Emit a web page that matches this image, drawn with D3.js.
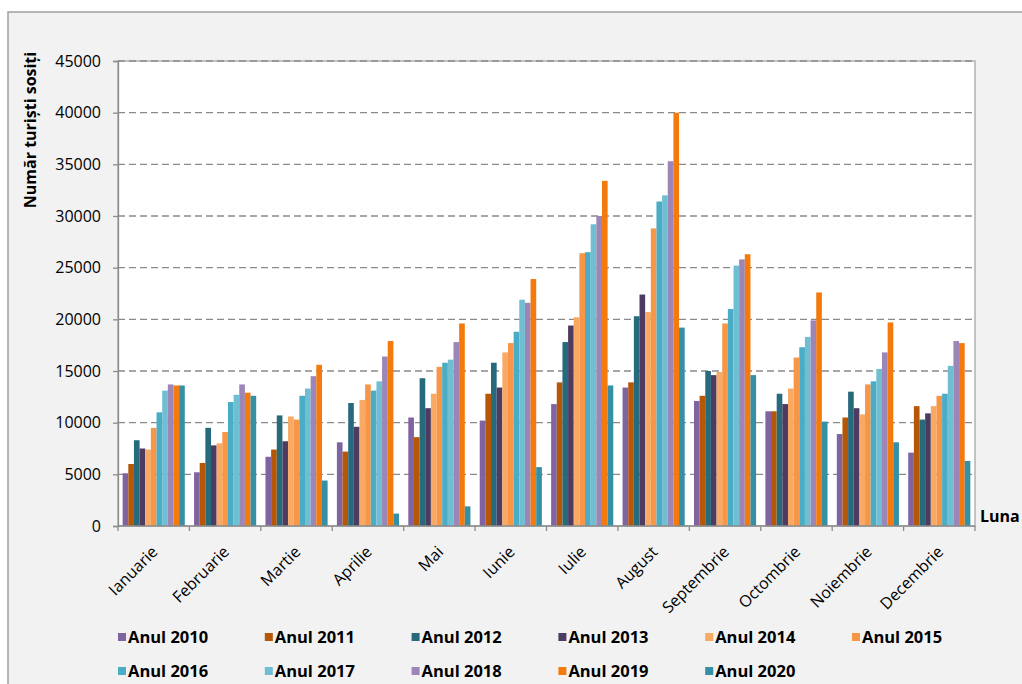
<!DOCTYPE html>
<html><head><meta charset="utf-8">
<script src="https://cdn.jsdelivr.net/npm/d3@7/dist/d3.min.js"></script>
<style>
html,body{margin:0;padding:0;background:#fff;}
svg{display:block;}
text{font-family:"Open Sans",sans-serif;fill:#000;}
</style></head>
<body>
<svg id="chart" width="1022" height="684"></svg>
<script>
const months = ["Ianuarie","Februarie","Martie","Aprilie","Mai","Iunie","Iulie","August","Septembrie","Octombrie","Noiembrie","Decembrie"];
const years = ["Anul 2010","Anul 2011","Anul 2012","Anul 2013","Anul 2014","Anul 2015","Anul 2016","Anul 2017","Anul 2018","Anul 2019","Anul 2020"];
const colors = ["#8064A2","#B65708","#276A7C","#4D3B62","#F8A964","#F79646","#4BACC6","#70BED2","#9C86B7","#F47A0E","#3590A5"];
const y2010 = [5100, 5200, 6700, 8100, 10500, 10200, 11800, 13400, 12100, 11100, 8900, 7100];
const y2011 = [6000, 6100, 7400, 7200, 8600, 12800, 13900, 13900, 12600, 11100, 10500, 11600];
const y2012 = [8300, 9500, 10700, 11900, 14300, 15800, 17800, 20300, 15000, 12800, 13000, 10300];
const y2013 = [7500, 7800, 8200, 9600, 11400, 13400, 19400, 22400, 14600, 11800, 11400, 10900];
const y2014 = [7400, 8000, 10600, 12200, 12800, 16800, 20200, 20700, 14900, 13300, 10800, 11600];
const y2015 = [9500, 9100, 10300, 13700, 15400, 17700, 26400, 28800, 19600, 16300, 13700, 12600];
const y2016 = [11000, 12000, 12600, 13100, 15800, 18800, 26500, 31400, 21000, 17300, 14000, 12800];
const y2017 = [13100, 12700, 13300, 14000, 16100, 21900, 29200, 32000, 25200, 18300, 15200, 15500];
const y2018 = [13700, 13700, 14500, 16400, 17800, 21600, 30000, 35300, 25800, 19900, 16800, 17900];
const y2019 = [13600, 12900, 15600, 17900, 19600, 23900, 33400, 40000, 26300, 22600, 19700, 17700];
const y2020 = [13600, 12600, 4400, 1200, 1900, 5700, 13600, 19200, 14600, 10100, 8100, 6300];
const yTicks = [0,5000,10000,15000,20000,25000,30000,35000,40000,45000];
const series = [y2010,y2011,y2012,y2013,y2014,y2015,y2016,y2017,y2018,y2019,y2020];

const svg = d3.select("#chart");
const L = 118, R = 975, T = 61, B = 526;

// outer chart area
svg.append("rect").attr("x",8).attr("y",12).attr("width",1040).attr("height",700)
  .attr("fill","#F2F2F2").attr("stroke","#A0A0A0").attr("stroke-width",1.5);
// plot area
svg.append("rect").attr("x",L).attr("y",T).attr("width",R-L).attr("height",B-T)
  .attr("fill","#FFFFFF").attr("stroke","#A6A6A6").attr("stroke-width",1.3);

const x0 = d3.scaleBand().domain(months).range([L,R]).padding(0);
const bw = x0.bandwidth();
const x1 = d3.scaleBand().domain(years).range([bw*0.065, bw*0.935]).padding(0);
const y = d3.scaleLinear().domain([0,45000]).range([B,T]);

// gridlines
svg.append("g").selectAll("line").data(yTicks.filter(d=>d>0)).join("line")
  .attr("x1",L).attr("x2",R).attr("y1",d=>y(d)).attr("y2",d=>y(d))
  .attr("stroke","#8A8A8A").attr("stroke-width",1.4).attr("stroke-dasharray","7,4");

// bars
const g = svg.append("g");
months.forEach((m,mi)=>{
  years.forEach((yr,yi)=>{
    const v = series[yi][mi];
    g.append("rect")
      .attr("x", x0(m)+x1(yr))
      .attr("y", y(v))
      .attr("width", x1.bandwidth())
      .attr("height", B-y(v))
      .attr("fill", colors[yi]);
  });
});

// y axis
const yAxis = d3.axisLeft(y).tickValues(yTicks).tickSize(5).tickPadding(12).tickFormat(d3.format("d"));
const ya = svg.append("g").attr("transform",`translate(${L},0)`).call(yAxis);
ya.select(".domain").attr("stroke","#8C8C8C").attr("stroke-width",1.3);
ya.selectAll(".tick line").attr("stroke","#8C8C8C").attr("stroke-width",1.3);
ya.selectAll(".tick text").style("font-size","16px").style("font-family","Open Sans").attr("fill","#000");

// x axis
const xTickPos = months.map(m=>x0(m)).concat([R]);
const xa = svg.append("g");
xa.append("line").attr("x1",L).attr("x2",R).attr("y1",B).attr("y2",B).attr("stroke","#8C8C8C").attr("stroke-width",1.3);
xa.selectAll("line.t").data(xTickPos).join("line").attr("class","t")
  .attr("x1",d=>d).attr("x2",d=>d).attr("y1",B).attr("y2",B+5).attr("stroke","#8C8C8C").attr("stroke-width",1.3);
xa.selectAll("text").data(months).join("text")
  .attr("transform",d=>`translate(${x0(d)+bw/2+5},${553}) rotate(-45)`)
  .attr("text-anchor","end").style("font-size","16px").text(d=>d);

// axis titles
svg.append("text").attr("transform","translate(36,130) rotate(-90)").attr("text-anchor","middle")
  .style("font-size","16px").style("font-weight","bold").text("Număr turiști sosiți");
svg.append("text").attr("x",980).attr("y",522).style("font-size","16px").style("font-weight","bold").text("Luna");

// legend
const lg = svg.append("g");
years.forEach((yr,i)=>{
  const row = i<6?0:1, col = i<6?i:i-6;
  const lx = 118 + col*146.8, ly = row===0?637:671;
  lg.append("rect").attr("x",lx).attr("y",ly-4).attr("width",8).attr("height",8).attr("fill",colors[i]);
  lg.append("text").attr("x",lx+10).attr("y",ly).attr("dy","0.35em")
    .style("font-size","16.5px").style("font-weight","bold").text(yr);
});
</script>
</body></html>
